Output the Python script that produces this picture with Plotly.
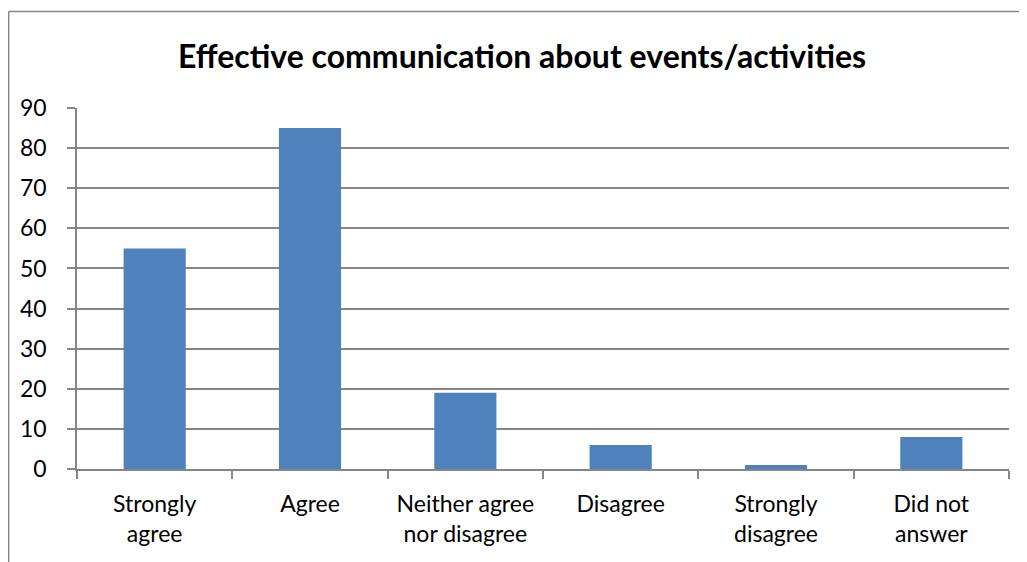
import plotly.graph_objects as go

categories = ["Strongly<br>agree", "Agree", "Neither agree<br>nor disagree", "Disagree", "Strongly<br>disagree", "Did not<br>answer"]
values = [55, 85, 19, 6, 1, 8]
y_ticks = [0, 10, 20, 30, 40, 50, 60, 70, 80, 90]
title_text = "Effective communication about events/activities"

OX, OY = 8, 8  # page offset
W, H = 1019, 554
L, T = 75 - OX, 108 - OY
R = W - (1009 - OX)
B = H - (469 - OY)
pw, ph = W - L - R, H - T - B

fig = go.Figure(go.Bar(x=categories, y=values, marker=dict(color="#4F81BD", line=dict(width=0)), width=0.4))

def px_x(p):
    return (p - OX - L) / pw

def px_y(p):
    return (H - B - (p - OY)) / ph

frame = dict(color="#868686", width=1.5)
fig.add_shape(type="line", xref="paper", yref="paper",
              x0=px_x(6.5), x1=px_x(1030), y0=px_y(11.5), y1=px_y(11.5), line=frame, layer="below")
fig.add_shape(type="line", xref="paper", yref="paper",
              x0=px_x(6.5), x1=px_x(6.5), y0=px_y(11.5), y1=px_y(565), line=frame, layer="below")

FONT = "Lato, 'Open Sans', sans-serif"
fig.update_layout(
    width=W, height=H,
    margin=dict(l=L, r=R, t=T, b=B),
    paper_bgcolor="white", plot_bgcolor="white",
    font=dict(family=FONT, size=23, color="#000"),
    title=dict(text="<b>" + title_text + "</b>", x=px_x(521), xanchor="center", xref="paper",
               y=1 - (57 - OY) / H, yanchor="middle", font=dict(size=32, family=FONT)),
    showlegend=False,
    bargap=0.6,
)
fig.update_xaxes(type="category", showline=True, linecolor="#868686", linewidth=1.5,
                 ticks="outside", tickson="boundaries", ticklen=8, tickcolor="#868686", tickwidth=1.5,
                 showgrid=False, tickfont=dict(size=23), ticklabelstandoff=14)
fig.update_yaxes(range=[0, 90], tickvals=y_ticks, showline=True, linecolor="#868686", linewidth=1.5,
                 ticks="outside", ticklen=8, tickcolor="#868686", tickwidth=1.5,
                 showgrid=True, gridcolor="#868686", gridwidth=1.5, zeroline=False,
                 tickfont=dict(size=23), ticklabelstandoff=16)

fig.write_html("out.html")
